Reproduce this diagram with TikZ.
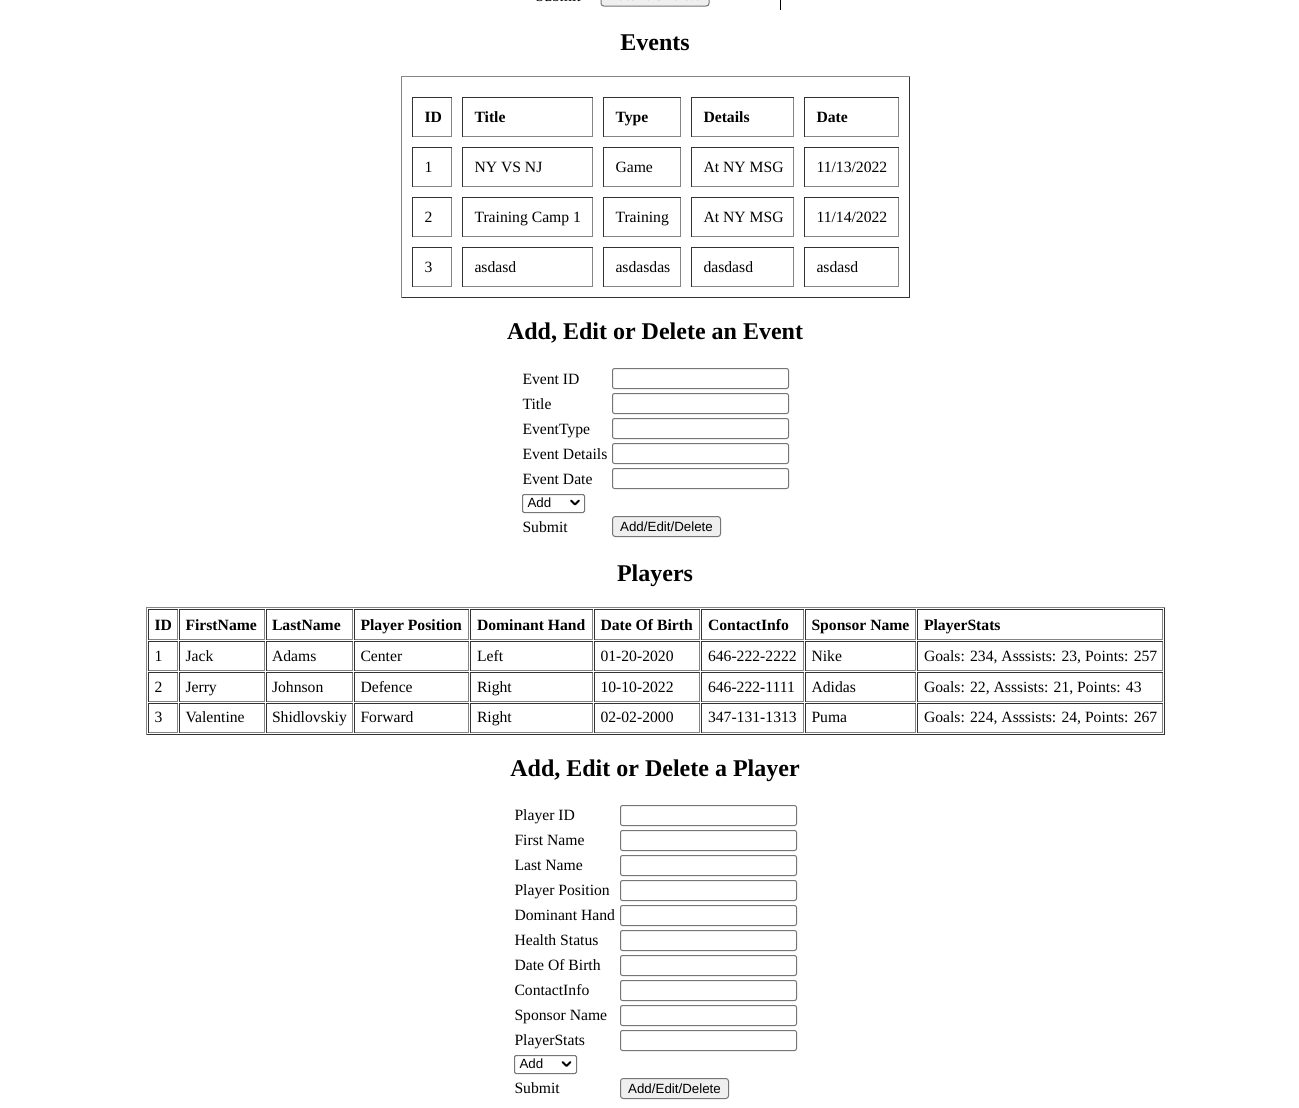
\documentclass[tikz,border=0pt]{standalone}
\usepackage{fontspec}
\setmainfont{Liberation Serif}
\newfontfamily\arialf{Liberation Sans}
\definecolor{dkc}{HTML}{333333}
\definecolor{ltc}{HTML}{858585}
\definecolor{inpc}{HTML}{767676}
\definecolor{btnbg}{HTML}{EFEFEF}
\newcommand\insetcell[4]{\draw[dkc] (#1,#4)--(#1,#2)--(#3,#2); \draw[ltc] (#3,#2)--(#3,#4)--(#1,#4);}
\newcommand\outsetcell[4]{\draw[ltc] (#1,#4)--(#1,#2)--(#3,#2); \draw[dkc] (#3,#2)--(#3,#4)--(#1,#4);}
\begin{document}
\begin{tikzpicture}[x=0.75pt,y=-0.75pt,line width=0.75pt,
  lbl/.style={anchor=base west,inner sep=0pt,font=\fontsize{11.75}{14}\selectfont},
  hd/.style={anchor=base west,inner sep=0pt,font=\fontsize{11.75}{14}\selectfont\bfseries},
  ttl/.style={anchor=base,inner sep=0pt,font=\fontsize{18}{22}\selectfont\bfseries},
  btntxt/.style={anchor=center,inner sep=0pt,font=\arialf\fontsize{10}{12}\selectfont},
  seltxt/.style={anchor=base west,inner sep=0pt,font=\arialf\fontsize{10}{12}\selectfont},
  inp/.style={draw=inpc,rounded corners=1.5pt},
  btn/.style={draw=inpc,fill=btnbg,rounded corners=2pt},
  sel/.style={draw=inpc,rounded corners=1pt},
  chev/.style={line width=1.4pt,line cap=round,line join=round}]
\useasboundingbox (0,0) rectangle (1299,1107);
\clip (0,0) rectangle (1299,1107);
\fill[white] (0,0) rectangle (1299,1107);

% ---- clipped top part ----
\node[lbl] (topsub) at (535,1) {Submit};
\draw[btn] (601,-14) rectangle (709,6);
\node[btntxt] (topbtn) at (655,-4) {Add/Edit/Delete};
\draw[black] (780,-5) -- (780,10);

% ---- Events ----
\node[ttl] (evtitle) at (655,50) {Events};
\outsetcell{401.5}{76.5}{909.5}{297.5}
\foreach \xa/\xb in {412.5/451.5,462.5/592.5,603.5/680.5,691.5/793.5,804.5/898.5}
  \foreach \ya/\yb in {97.5/136.5,147.5/186.5,197.5/236.5,247.5/286.5}
    {\insetcell{\xa}{\ya}{\xb}{\yb}}
\node[hd] (eh1) at (424,122) {ID};
\node[hd] (eh2) at (474,122) {Title};
\node[hd] (eh3) at (615,122) {Type};
\node[hd] (eh4) at (703,122) {Details};
\node[hd] (eh5) at (816,122) {Date};
\node[lbl] (e11) at (424,172) {1};
\node[lbl] (e12) at (474,172) {NY VS NJ};
\node[lbl] (e13) at (615,172) {Game};
\node[lbl] (e14) at (703,172) {At NY MSG};
\node[lbl] (e15) at (816,172) {11/13/2022};
\node[lbl] (e21) at (424,222) {2};
\node[lbl] (e22) at (474,222) {Training Camp 1};
\node[lbl] (e23) at (615,222) {Training};
\node[lbl] (e24) at (703,222) {At NY MSG};
\node[lbl] (e25) at (816,222) {11/14/2022};
\node[lbl] (e31) at (424,272) {3};
\node[lbl] (e32) at (474,272) {asdasd};
\node[lbl] (e33) at (615,272) {asdasdas};
\node[lbl] (e34) at (703,272) {dasdasd};
\node[lbl] (e35) at (816,272) {asdasd};

% ---- Event form ----
\node[ttl] (evform) at (655,339) {Add, Edit or Delete an Event};
\foreach \t [count=\i from 0] in {Event ID,Title,EventType,Event Details,Event Date}{
  \node[lbl] (ef\i) at (522,384+25*\i) {\t};
  \draw[inp] (612.5,368.5+25*\i) rectangle (788.5,388.5+25*\i);
}
\draw[sel] (522.5,494.5) rectangle (584.5,512.5);
\node[seltxt] (efsel) at (527,507) {Add};
\draw[chev] (571,500.5) -- (575,504.5) -- (579,500.5);
\node[lbl] (efsub) at (522,532) {Submit};
\draw[btn] (612.5,516.5) rectangle (720.5,536.5);
\node[btntxt] (efbtn) at (666.5,526.5) {Add/Edit/Delete};

% ---- Players ----
\node[ttl] (pltitle) at (655,581) {Players};
\outsetcell{146.5}{607.5}{1164.5}{734.5}
\foreach \xa/\xb in {148.5/177.5,179.5/264.5,266.5/352.5,354.5/468.5,470.5/592.5,594.5/699.5,701.5/803.5,805.5/915.5,917.5/1162.5}
  \foreach \ya/\yb in {609.5/639.5,641.5/670.5,672.5/701.5,703.5/732.5}
    {\insetcell{\xa}{\ya}{\xb}{\yb}}
\node[hd] (ph1) at (154,630) {ID};
\node[hd] (ph2) at (185,630) {FirstName};
\node[hd] (ph3) at (271.5,630) {LastName};
\node[hd] (ph4) at (360,630) {Player Position};
\node[hd] (ph5) at (476.5,630) {Dominant Hand};
\node[hd] (ph6) at (600,630) {Date Of Birth};
\node[hd] (ph7) at (707.5,630) {ContactInfo};
\node[hd] (ph8) at (811,630) {Sponsor Name};
\node[hd] (ph9) at (923.5,630) {PlayerStats};
\node[lbl] (p11) at (154,661) {1};
\node[lbl] (p12) at (185,661) {Jack};
\node[lbl] (p13) at (271.5,661) {Adams};
\node[lbl] (p14) at (360,661) {Center};
\node[lbl] (p15) at (476.5,661) {Left};
\node[lbl] (p16) at (600,661) {01-20-2020};
\node[lbl] (p17) at (707.5,661) {646-222-2222};
\node[lbl] (p18) at (811,661) {Nike};
\node[lbl] (p19) at (923.5,661) {Goals: 234, Asssists: 23, Points: 257};
\node[lbl] (p21) at (154,692) {2};
\node[lbl] (p22) at (185,692) {Jerry};
\node[lbl] (p23) at (271.5,692) {Johnson};
\node[lbl] (p24) at (360,692) {Defence};
\node[lbl] (p25) at (476.5,692) {Right};
\node[lbl] (p26) at (600,692) {10-10-2022};
\node[lbl] (p27) at (707.5,692) {646-222-1111};
\node[lbl] (p28) at (811,692) {Adidas};
\node[lbl] (p29) at (923.5,692) {Goals: 22, Asssists: 21, Points: 43};
\node[lbl] (p31) at (154,722.5) {3};
\node[lbl] (p32) at (185,722.5) {Valentine};
\node[lbl] (p33) at (271.5,722.5) {Shidlovskiy};
\node[lbl] (p34) at (360,722.5) {Forward};
\node[lbl] (p35) at (476.5,722.5) {Right};
\node[lbl] (p36) at (600,722.5) {02-02-2000};
\node[lbl] (p37) at (707.5,722.5) {347-131-1313};
\node[lbl] (p38) at (811,722.5) {Puma};
\node[lbl] (p39) at (923.5,722.5) {Goals: 224, Asssists: 24, Points: 267};

% ---- Player form ----
\node[ttl] (plform) at (655,776) {Add, Edit or Delete a Player};
\foreach \t [count=\i from 0] in {Player ID,First Name,Last Name,Player Position,Dominant Hand,Health Status,Date Of Birth,ContactInfo,Sponsor Name,PlayerStats}{
  \node[lbl] (pf\i) at (514,820+25*\i) {\t};
  \draw[inp] (620.5,805.5+25*\i) rectangle (796.5,825.5+25*\i);
}
\draw[sel] (514.5,1055.5) rectangle (576.5,1073.5);
\node[seltxt] (pfsel) at (519,1068) {Add};
\draw[chev] (562.5,1062) -- (566.5,1066) -- (570.5,1062);
\node[lbl] (pfsub) at (514,1093) {Submit};
\draw[btn] (620.5,1078.5) rectangle (728.5,1098.5);
\node[btntxt] (pfbtn) at (674.5,1088.5) {Add/Edit/Delete};
\end{tikzpicture}
\end{document}
